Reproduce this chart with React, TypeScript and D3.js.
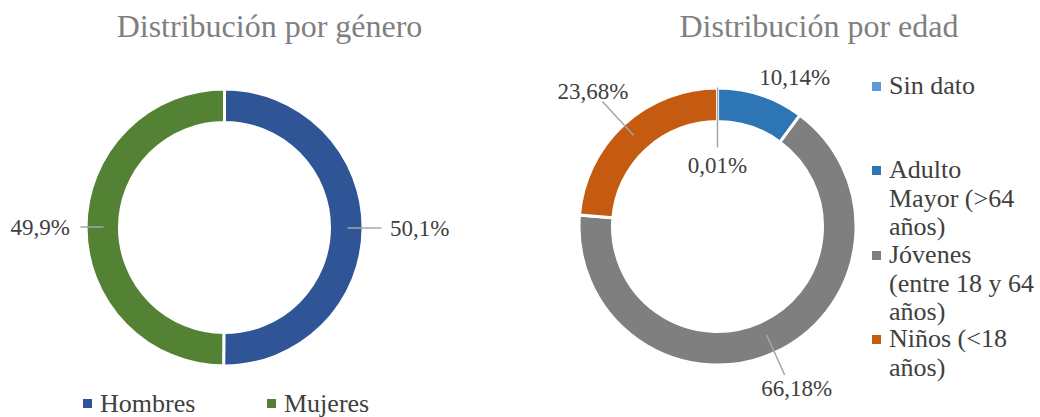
import React from "react";
import * as d3 from "d3";

const genderCategories = ["Hombres", "Mujeres"];
const genderValues = [50.1, 49.9];
const genderLabels = ["50,1%", "49,9%"];
const genderColors = ["#2F5597", "#548235"];

const ageCategories = ["Sin dato", "Adulto Mayor (>64 años)", "Jóvenes (entre 18 y 64 años)", "Niños (<18 años)"];
const ageLegendLines = [["Sin dato"], ["Adulto", "Mayor (>64", "años)"], ["Jóvenes", "(entre 18 y 64", "años)"], ["Niños (<18", "años)"]];
const ageValues = [0.01, 10.14, 66.18, 23.68];
const ageLabels = ["0,01%", "10,14%", "66,18%", "23,68%"];
const ageColors = ["#5B9BD5", "#2E75B6", "#7F7F7F", "#C55A11"];

const FONT = "Liberation Serif, Times New Roman, serif";
const TEXT = "#404040";
const LEADER = "#A6A6A6";

type LabelCfg = { r1: number; r2: number; lr: number; angOff?: number; anchor: string; line: boolean };

function Donut({ cx, cy, values, colors, labels, cfg }: { cx: number; cy: number; values: number[]; colors: string[]; labels: string[]; cfg: LabelCfg[] }) {
  const outer = 138.5;
  const inner = 105;
  const pie = d3.pie<number>().sort(null).value((d) => d);
  const arcs = pie(values);
  const arc = d3.arc<d3.PieArcDatum<number>>().innerRadius(inner).outerRadius(outer);
  const pt = (a: number, r: number) => [Math.sin(a) * r, -Math.cos(a) * r];
  return (
    <g transform={`translate(${cx},${cy})`}>
      {arcs.map((a, i) => (
        <path key={i} d={arc(a) || ""} fill={colors[i]} stroke="#fff" strokeWidth={3} />
      ))}
      {arcs.map((a, i) => {
        const c = cfg[i];
        const mid = (a.startAngle + a.endAngle) / 2;
        const [x1, y1] = pt(mid, c.r1);
        const [x2, y2] = pt(mid, c.r2);
        const [lx, ly] = pt(mid + (c.angOff || 0), c.lr);
        return (
          <g key={"l" + i}>
            {c.line && <line x1={x1} y1={y1} x2={x2} y2={y2} stroke={LEADER} strokeWidth={1.5} />}
            <text x={lx} y={ly + 8} textAnchor={c.anchor} fontFamily={FONT} fontSize={23} fill={TEXT}>
              {labels[i]}
            </text>
          </g>
        );
      })}
    </g>
  );
}

export default function App() {
  const genderCfg: LabelCfg[] = [
    { r1: 123, r2: 157, lr: 165.5, anchor: "start", line: true },
    { r1: 121, r2: 144, lr: 154.5, anchor: "end", line: true },
  ];
  const ageCfg: LabelCfg[] = [
    { r1: 139, r2: 79, lr: 62, anchor: "middle", line: true },
    { r1: 139, r2: 139, lr: 168, angOff: 0.159, anchor: "middle", line: false },
    { r1: 119, r2: 163, lr: 180, angOff: -0.03, anchor: "middle", line: true },
    { r1: 124, r2: 170, lr: 184, anchor: "middle", line: true },
  ];
  return (
    <svg width={1040} height={417} style={{ position: "absolute", left: 0, top: 0, background: "#fff" }}>
      <text x={269.5} y={37} textAnchor="middle" fontFamily={FONT} fontSize={32} fill="#7F7F7F">
        Distribución por género
      </text>
      <text x={819} y={37} textAnchor="middle" fontFamily={FONT} fontSize={32} fill="#7F7F7F">
        Distribución por edad
      </text>
      <Donut cx={224.5} cy={227.5} values={genderValues} colors={genderColors} labels={genderLabels} cfg={genderCfg} />
      <Donut cx={717.5} cy={226.5} values={ageValues} colors={ageColors} labels={ageLabels} cfg={ageCfg} />
      {genderCategories.map((c, i) => (
        <g key={c} transform={`translate(${[83, 267][i]},0)`}>
          <rect x={0} y={399} width={9} height={9} fill={genderColors[i]} />
          <text x={17} y={412} fontFamily={FONT} fontSize={26} fill={TEXT}>{c}</text>
        </g>
      ))}
      {ageCategories.map((c, i) => {
        const firstBase = [94, 178, 263, 347][i];
        return (
          <g key={c}>
            <rect x={872} y={firstBase - 12} width={9} height={9} fill={ageColors[i]} />
            {ageLegendLines[i].map((t, j) => (
              <text key={j} x={889} y={firstBase + j * 28.5} fontFamily={FONT} fontSize={26} fill={TEXT}>{t}</text>
            ))}
          </g>
        );
      })}
    </svg>
  );
}
